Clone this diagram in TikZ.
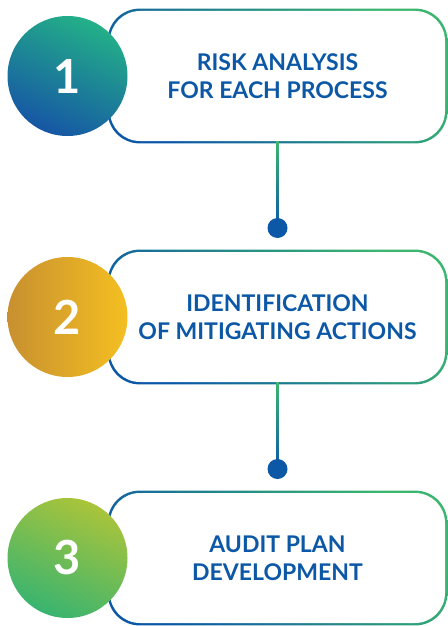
\documentclass[tikz,border=0pt]{standalone}
\usepackage{fontspec}
\setmainfont{Lato}
\usepackage{xcolor}
\usetikzlibrary{shapes, arrows, fit, backgrounds, positioning}

\begin{document}
\begin{tikzpicture}[x=1pt, y=-1pt, node distance=241pt and 210pt, on grid]

	\definecolor{my_blue}{RGB}{12,88,166}
\definecolor{my_teal}{RGB}{30,170,140}
\definecolor{my_green}{RGB}{60,182,110}

\definecolor{my_blue_circ}{RGB}{22,86,165}
\definecolor{my_teal_circ}{RGB}{35,176,136}

\definecolor{my_gold_dark}{RGB}{200,144,48}
\definecolor{my_gold_light}{RGB}{244,191,33}

\definecolor{my_lime}{RGB}{170,196,58}
\definecolor{my_green_circ}{RGB}{56,180,112}

\tikzstyle{stepbox} = [rectangle, fill=white, rounded corners=30pt, minimum width=335pt, minimum height=130pt, text=my_blue, align=center, font=\fontsize{23}{28}\selectfont\bfseries]
\tikzstyle{numcircle} = [circle, minimum size=120pt, inner sep=0pt, text=white, font=\fontsize{47}{47}\selectfont\bfseries]
\tikzstyle{dot} = [circle, fill=my_blue, minimum size=20pt, inner sep=0pt]
\tikzstyle{border} = [rounded corners=32pt, top color=my_green, middle color=my_blue, bottom color=my_blue, shading angle=-50]
\tikzstyle{line} = [top color=my_green, bottom color=my_blue]

	\useasboundingbox (0,0) rectangle (447,626);

	\node [stepbox] at (277.5,76) (box1) {RISK ANALYSIS\\FOR EACH PROCESS};
	\node [stepbox, below=of box1] (box2) {IDENTIFICATION\\OF MITIGATING ACTIONS};
	\node [stepbox, below=of box2] (box3) {AUDIT PLAN\\DEVELOPMENT};

	\node [dot, below=152pt of box1] (dot1) {};
	\node [dot, below=152pt of box2] (dot2) {};

	% gradient borders and connectors
	\begin{scope}[on background layer]
	\shade [border] ([shift={(-2.2pt,2.2pt)}]box1.north west) rectangle ([shift={(2.2pt,-2.2pt)}]box1.south east);
	\shade [border] ([shift={(-2.2pt,2.2pt)}]box2.north west) rectangle ([shift={(2.2pt,-2.2pt)}]box2.south east);
	\shade [border] ([shift={(-2.2pt,2.2pt)}]box3.north west) rectangle ([shift={(2.2pt,-2.2pt)}]box3.south east);
	\shade [line] ([xshift=-1.1pt]box1.south) rectangle ([xshift=1.1pt]dot1.center);
	\shade [line] ([xshift=-1.1pt]box2.south) rectangle ([xshift=1.1pt]dot2.center);
	\end{scope}

	\node [numcircle, left=of box1, top color=my_teal_circ, bottom color=my_blue_circ, shading angle=-25] (num1) {1};
	\node [numcircle, left=of box2, left color=my_gold_dark, right color=my_gold_light] (num2) {2};
	\node [numcircle, left=of box3, top color=my_lime, bottom color=my_green_circ, shading angle=-25] (num3) {3};

\end{tikzpicture}
\end{document}
